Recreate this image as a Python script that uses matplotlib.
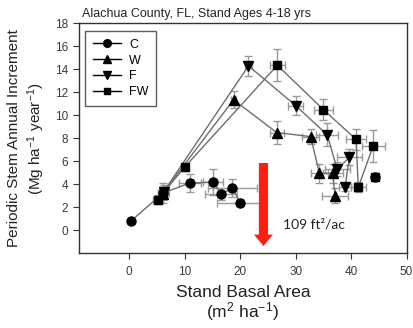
import numpy as np
import matplotlib
matplotlib.use("Agg")
import matplotlib.pyplot as plt
from matplotlib.lines import Line2D

plt.rcParams['font.family'] = ['Liberation Sans', 'DejaVu Sans']
plt.rcParams['mathtext.fontset'] = 'custom'
plt.rcParams['mathtext.rm'] = 'Liberation Sans'
plt.rcParams['mathtext.it'] = 'Liberation Sans:italic'
plt.rcParams['mathtext.bf'] = 'Liberation Sans:bold'

# ---- data ----
c_x = [0.3, 6.1, 10.9, 15.1, 16.6, 18.6, 20.0]
c_y = [0.8, 3.25, 4.1, 4.2, 3.15, 3.7, 2.4]
c_xerr = [0.0, 1.0, 2.0, 1.8, 2.9, 4.4, 4.2]
c_yerr = [0.0, 0.9, 0.8, 1.15, 0.5, 0.8, 0.3]

c_extra_x = [44.3]
c_extra_y = [4.6]

w_x = [6.0, 18.8, 26.6, 32.7, 34.3, 36.7, 37.1]
w_y = [3.2, 11.35, 8.5, 8.15, 4.95, 4.95, 3.0]
w_xerr = [0.8, 0.5, 1.25, 1.5, 1.6, 1.85, 2.4]
w_yerr = [0.6, 0.75, 1.0, 0.65, 0.8, 0.8, 0.65]

f_x = [6.2, 21.5, 30.0, 35.7, 37.5, 39.7, 38.9]
f_y = [3.35, 14.3, 10.85, 8.3, 5.3, 6.35, 3.75]
f_xerr = [0.8, 0.6, 1.35, 1.95, 2.25, 2.2, 1.0]
f_yerr = [0.6, 0.85, 0.85, 1.0, 0.6, 0.7, 0.3]

fw_x = [5.1, 10.0, 26.7, 35.0, 40.9, 41.3, 44.0]
fw_y = [2.65, 5.5, 14.35, 10.5, 7.9, 3.75, 7.35]
fw_xerr = [0.9, 0.6, 1.3, 1.7, 1.8, 1.35, 2.1]
fw_yerr = [0.4, 0.3, 1.4, 0.95, 0.9, 0.45, 1.4]

x_ticks = [0, 10, 20, 30, 40, 50]
y_ticks = [0, 2, 4, 6, 8, 10, 12, 14, 16, 18]

arrow_x = 24.2
arrow_top = 5.85
arrow_tip = -1.37

title = "Alachua County, FL, Stand Ages 4-18 yrs"
annot = "109 ft²/ac"

# ---- figure ----
fig = plt.figure(figsize=(4.14, 3.28), dpi=100)
ax = fig.add_axes([0.1916, 0.2277, 0.982 - 0.1916, 0.929 - 0.2277])

line_col = '#6e6e6e'
err_col = '#9a9a9a'

series = [
    ('C', c_x, c_y, c_xerr, c_yerr, 'o', 6.5),
    ('W', w_x, w_y, w_xerr, w_yerr, '^', 6.5),
    ('F', f_x, f_y, f_xerr, f_yerr, 'v', 6.5),
    ('FW', fw_x, fw_y, fw_xerr, fw_yerr, 's', 5.8),
]

for name, x, y, xe, ye, m, ms in series:
    ax.errorbar(x, y, xerr=xe, yerr=ye, fmt='none', ecolor=err_col,
                elinewidth=1.0, capsize=2.6, capthick=1.0, zorder=2)
    ax.plot(x, y, '-', color=line_col, lw=1.0, zorder=3)
    ax.plot(x, y, linestyle='none', marker=m, ms=ms, mfc='black',
            mec='black', zorder=4)

ax.plot(c_extra_x, c_extra_y, linestyle='none', marker='o', ms=6.5,
        mfc='black', mec='black', zorder=4)
ax.plot(c_extra_x, c_extra_y, linestyle='none', marker='s', ms=5.6,
        mfc='black', mec='black', zorder=4)

# red arrow
ax.arrow(arrow_x, arrow_top, 0, arrow_tip - arrow_top, width=1.65,
         head_width=3.4, head_length=1.0, length_includes_head=True,
         color='#ff1e0f', ec='none', zorder=6)

ax.text(27.75, 0.5, annot, fontsize=10, family=['Lato', 'DejaVu Sans'],
        color='#222222', va='center', ha='left', zorder=7)

ax.set_xlim(-9, 50)
ax.set_ylim(-2, 18)
ax.set_xticks(x_ticks)
ax.set_yticks(y_ticks)
ax.tick_params(axis='both', direction='out', length=4, width=0.8,
               labelsize=8.5, labelcolor='#3a3a3a', color='#333333')
ax.tick_params(axis='x', pad=5)
ax.tick_params(axis='y', pad=4)
for s in ax.spines.values():
    s.set_color('#333333')
    s.set_linewidth(1.0)

ax.set_xlabel('Stand Basal Area\n(m$^2$ ha$^{-1}$)', fontsize=12.5,
              linespacing=1.0, labelpad=5, color='#222222')
ax.set_ylabel('Periodic Stem Annual Increment\n(Mg ha$^{-1}$ year$^{-1}$)',
              fontsize=11, linespacing=1.25, labelpad=6, color='#222222')

fig.text(82 / 414, 1 - 13.5 / 328, title, fontsize=9, ha='left',
         va='center', color='#222222')

handles = [Line2D([0], [0], color='black', lw=1.0, marker=m, ms=ms * 0.85,
                  mfc='black', mec='black')
           for _, _, _, _, _, m, ms in series]
labels = [s[0] for s in series]
leg = ax.legend(handles, labels, loc='upper left', fontsize=9,
                frameon=True, fancybox=False, edgecolor='#333333',
                handlelength=2.3, handletextpad=0.6, labelspacing=0.3,
                borderpad=0.6, borderaxespad=0.0,
                bbox_to_anchor=(0.018, 0.965))
leg.get_frame().set_linewidth(1.0)

fig.savefig('out.png', dpi=100)
